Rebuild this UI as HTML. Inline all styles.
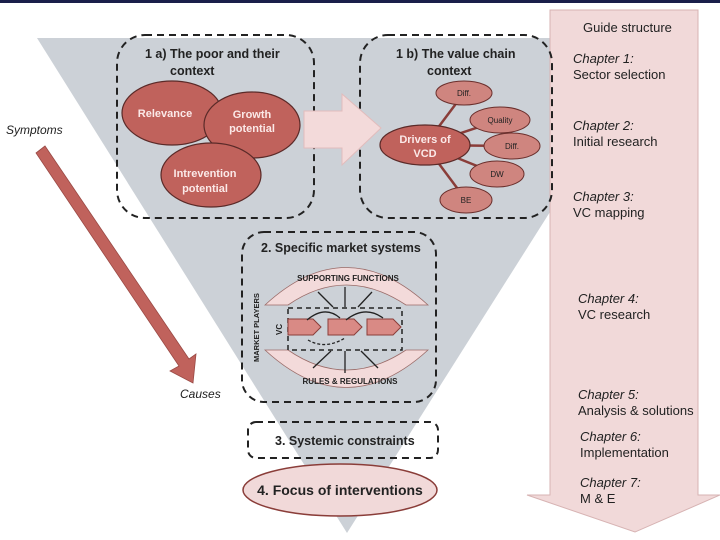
<!DOCTYPE html>
<html><head><meta charset="utf-8"><style>
html,body{margin:0;padding:0;background:#fff;}
svg{display:block;font-family:"Liberation Sans",sans-serif;}
.b{font-weight:bold;}
</style></head><body>
<svg width="720" height="540" viewBox="0 0 720 540" xmlns="http://www.w3.org/2000/svg">
<rect x="0" y="0" width="720" height="3" fill="#1a1f4a"/>
<!-- triangle -->
<polygon points="37,38 660,38 347,533" fill="#ccd1d7"/>
<!-- guide arrow -->
<polygon points="550,10 698,10 698,495 720,495 635,532 527,495 550,495" fill="#f1d9d9" stroke="#d7b3b3" stroke-width="1"/>
<text x="583" y="32" font-size="13" fill="#222">Guide structure</text>
<g font-size="13" fill="#222">
<text x="573" y="63" font-style="italic">Chapter 1:</text><text x="573" y="79">Sector selection</text>
<text x="573" y="130" font-style="italic">Chapter 2:</text><text x="573" y="146">Initial research</text>
<text x="573" y="201" font-style="italic">Chapter 3:</text><text x="573" y="217">VC mapping</text>
<text x="578" y="303" font-style="italic">Chapter 4:</text><text x="578" y="319">VC research</text>
<text x="578" y="399" font-style="italic">Chapter 5:</text><text x="578" y="415">Analysis &amp; solutions</text>
<text x="580" y="441" font-style="italic">Chapter 6:</text><text x="580" y="457">Implementation</text>
<text x="580" y="487" font-style="italic">Chapter 7:</text><text x="580" y="503">M &amp; E</text>
</g>
<!-- symptoms arrow -->
<text x="6" y="134" font-size="12" font-style="italic" fill="#222">Symptoms</text>
<polygon points="36,153 45,146 189,359 196,354 193,383 170,371 179,366" fill="#c0625c" stroke="#9a4a45" stroke-width="0.8"/>
<text x="180" y="398" font-size="12" font-style="italic" fill="#222">Causes</text>
<!-- boxes -->
<g fill="none" stroke="#222" stroke-width="2" stroke-dasharray="7,5">
<rect x="117" y="35" width="197" height="183" rx="28"/>
<rect x="360" y="35" width="192" height="183" rx="28"/>
<rect x="242" y="232" width="194" height="170" rx="22"/>
<rect x="248" y="422" width="190" height="36" rx="8"/>
</g>
<text x="145" y="58" font-size="12.5" class="b" fill="#222">1 a) The poor and their</text>
<text x="170" y="75" font-size="12.5" class="b" fill="#222">context</text>
<text x="396" y="58" font-size="12.5" class="b" fill="#222">1 b) The value chain</text>
<text x="427" y="75" font-size="12.5" class="b" fill="#222">context</text>
<!-- ellipses 1a -->
<g fill="#c0625c" stroke="#5a2a28" stroke-width="1.2">
<ellipse cx="172" cy="113" rx="50" ry="32"/>
<ellipse cx="252" cy="125" rx="48" ry="33"/>
<ellipse cx="211" cy="175" rx="50" ry="32"/>
</g>
<g fill="#fbe9e8" font-size="11" class="b" text-anchor="middle">
<text x="165" y="117">Relevance</text>
<text x="252" y="118">Growth</text><text x="252" y="132">potential</text>
<text x="205" y="177">Intrevention</text><text x="205" y="192">potential</text>
</g>
<!-- big arrow -->
<polygon points="304,111 342,111 342,94 381,128 342,165 342,148 304,148" fill="#f3dada" stroke="#e2bcbc" stroke-width="1"/>
<!-- 1b drivers -->
<g stroke="#8a3d39" stroke-width="2.5">
<line x1="425" y1="145" x2="464" y2="93"/><line x1="425" y1="145" x2="500" y2="120"/>
<line x1="425" y1="145" x2="512" y2="146"/><line x1="425" y1="145" x2="497" y2="174"/>
<line x1="425" y1="145" x2="466" y2="200"/>
</g>
<g fill="#cf857f" stroke="#6a2f2c" stroke-width="1">
<ellipse cx="464" cy="93" rx="28" ry="12"/><ellipse cx="500" cy="120" rx="30" ry="13"/>
<ellipse cx="512" cy="146" rx="28" ry="13"/><ellipse cx="497" cy="174" rx="27" ry="13"/>
<ellipse cx="466" cy="200" rx="26" ry="13"/>
</g>
<ellipse cx="425" cy="145" rx="45" ry="20" fill="#c0625c" stroke="#5a2a28" stroke-width="1.2"/>
<g font-size="8" fill="#222" text-anchor="middle">
<text x="464" y="96">Diff.</text><text x="500" y="123">Quality</text><text x="512" y="149">Diff.</text>
<text x="497" y="177">DW</text><text x="466" y="203">BE</text>
</g>
<text x="425" y="143" font-size="11" class="b" fill="#fbe9e8" text-anchor="middle">Drivers of</text>
<text x="425" y="157" font-size="11" class="b" fill="#fbe9e8" text-anchor="middle">VCD</text>
<!-- market systems -->
<text x="261" y="252" font-size="12.5" class="b" fill="#222">2. Specific market systems</text>
<path d="M265,305 Q346,230 428,305 L406,305 Q346,265 288,305 Z" fill="#f3dada" stroke="#9a6b68" stroke-width="0.8"/>
<path d="M265,350 Q346,425 428,350 L406,350 Q346,390 288,350 Z" fill="#f3dada" stroke="#9a6b68" stroke-width="0.8"/>
<text x="348" y="281" font-size="8" class="b" fill="#222" text-anchor="middle">SUPPORTING FUNCTIONS</text>
<text x="350" y="384" font-size="8" class="b" fill="#222" text-anchor="middle">RULES &amp; REGULATIONS</text>
<text transform="translate(259,362) rotate(-90)" font-size="7.5" class="b" fill="#222">MARKET PLAYERS</text>
<text transform="translate(282,335) rotate(-90)" font-size="8" class="b" fill="#222">VC</text>
<rect x="288" y="308" width="114" height="42" fill="none" stroke="#222" stroke-width="1.5" stroke-dasharray="5,4"/>
<g fill="#d98a85" stroke="#8a3d39" stroke-width="1">
<polygon points="288,319 313,319 321,327 313,335 288,335"/>
<polygon points="328,319 354,319 362,327 354,335 328,335"/>
<polygon points="367,319 393,319 401,327 393,335 367,335"/>
</g>
<g stroke="#222" stroke-width="1.3" fill="none">
<line x1="345" y1="287" x2="345" y2="307"/><line x1="318" y1="292" x2="333" y2="307"/><line x1="372" y1="292" x2="358" y2="307"/>
<line x1="345" y1="373" x2="345" y2="351"/><line x1="313" y1="368" x2="331" y2="351"/><line x1="378" y1="368" x2="361" y2="351"/>
<path d="M307,320 Q325,305 340,318"/><path d="M346,320 Q365,305 383,318"/>
<path d="M308,340 Q325,350 345,338" stroke-dasharray="3,2"/>
</g>
<!-- 3 and 4 -->
<text x="275" y="445" font-size="12.5" class="b" fill="#222">3. Systemic constraints</text>
<ellipse cx="340" cy="490" rx="97" ry="26" fill="#f1d9d9" stroke="#8a3d39" stroke-width="1.5"/>
<text x="340" y="495" font-size="14" class="b" fill="#222" text-anchor="middle">4. Focus of interventions</text>
</svg>
</body></html>
